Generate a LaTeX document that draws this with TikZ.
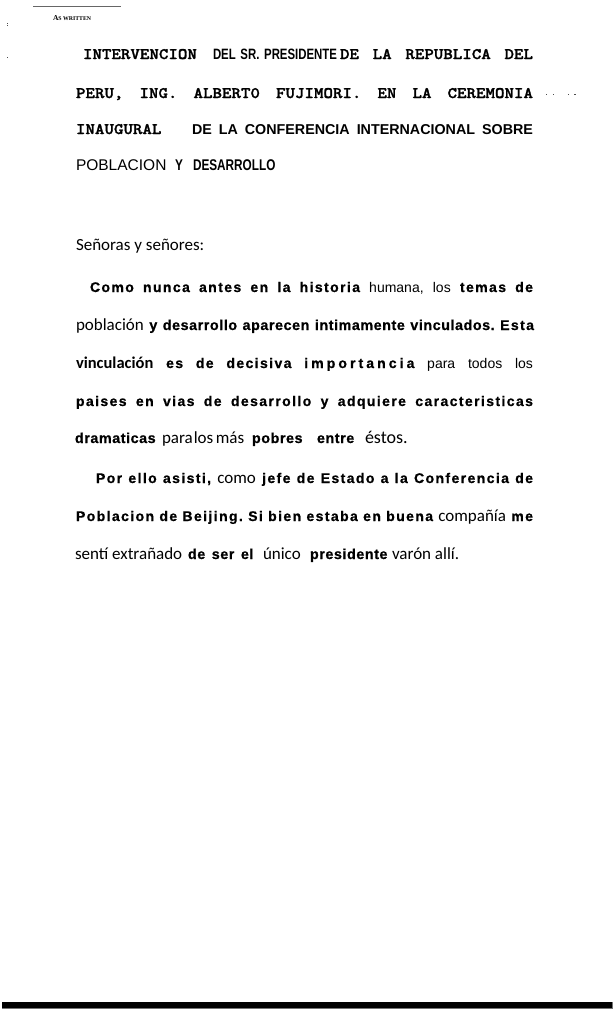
\documentclass[tikz,border=0pt]{standalone}
\usepackage{fontspec}
\setmainfont{Liberation Sans}
\newfontfamily\courf{lmmonolt10-bold}[Extension=.otf, FakeStretch=1.13, FakeBold=1.6]
\newfontfamily\arf{Liberation Sans}
\newfontfamily\arsp{Liberation Sans}[LetterSpace=10, BoldFeatures={FakeBold=0.7}]
\newfontfamily\arpl{Liberation Sans}[LetterSpace=4, BoldFeatures={FakeBold=0.7}]
\newfontfamily\arwd{Liberation Sans}[LetterSpace=22, BoldFeatures={FakeBold=0.7}]
\newfontfamily\narf{Liberation Sans}[FakeStretch=0.76]
\newfontfamily\narb{Liberation Sans}[FakeStretch=0.76]
\newfontfamily\calf{Carlito}
\newfontfamily\serf{Liberation Serif}
\newcommand\BS[1]{{\arsp\bfseries\fontsize{14}{14}\selectfont #1}}
\newcommand\BP[1]{{\arpl\bfseries\fontsize{14.3}{14.3}\selectfont #1}}
\newcommand\BW[1]{{\arwd\bfseries\fontsize{14}{14}\selectfont #1}}
\newcommand\RG[1]{{\arf\fontsize{14}{14}\selectfont #1}}
\newcommand\CL[1]{{\calf\fontsize{17}{17}\selectfont #1}}
\newcommand\CB[1]{{\calf\bfseries\fontsize{16.5}{16.5}\selectfont #1}}
\newcommand\MB[1]{{\courf\fontsize{16}{16}\selectfont #1}}
\tikzset{
  txt/.style={anchor=base west, inner sep=0pt, outer sep=0pt, font=\fontsize{14}{14}\selectfont},
  speck/.style={fill=black!70, draw=none},
}
\begin{document}
\begin{tikzpicture}[x=1pt, y=-1pt]
\useasboundingbox (0,0) rectangle (614,1009);
\fill[white] (0,0) rectangle (614,1009);

% header
\draw[black!60, line width=0.8pt] (33,6) -- (121,6);
\node[txt] (aswritten) at (53,20.5) {\serf\bfseries\fontsize{7.5}{7.5}\selectfont A\fontsize{5.8}{5.8}\selectfont S WRITTEN};
\fill[speck] (6.5,22.5) rectangle (7.7,23.5);
\fill[speck] (6.5,24.5) rectangle (7.7,25.5);
\fill[speck] (6.8,56.5) rectangle (7.8,57.5);

% title
\node[txt] (t1a) at (83,59) {\MB{INTERVENCION}};
\node[txt] (t1b) at (213,59) {\narf\bfseries\fontsize{15}{15}\selectfont\makebox[124pt][s]{DEL SR. PRESIDENTE}};
\node[txt] (t1c) at (340,59) {\MB{\makebox[193pt][l]{DE\hfill LA\hfill REPUBLICA\hfill DEL}}};

\node[txt] (t2) at (76,98) {\MB{\makebox[457pt][l]{PERU,\hfill ING.\hfill ALBERT0\hfill FUJIMORI.\hfill EN\hfill LA\hfill CEREMONIA}}};
\fill[speck] (546.2,93.8) rectangle (547.4,95);
\fill[speck] (552.8,93.8) rectangle (554,95);
\fill[speck] (567.8,93.8) rectangle (569,95);
\fill[speck] (574.4,93.8) rectangle (575.6,95);

\node[txt] (t3a) at (76,134) {\MB{INAUGURAL}};
\node[txt] (t3b) at (192,134) {\arf\bfseries\fontsize{14.3}{14.3}\selectfont\makebox[341pt][s]{DE LA CONFERENCIA INTERNACIONAL SOBRE}};

\node[txt] (t4a) at (76,170) {\arf\fontsize{15.5}{15.5}\selectfont POBLACION};
\node[txt] (t4b) at (175,170) {\narb\bfseries\fontsize{15.5}{15.5}\selectfont Y};
\node[txt] (t4c) at (193,170) {\narb\bfseries\fontsize{15.5}{15.5}\selectfont DESARROLLO};

% body
\node[txt] (b0) at (76,250) {\CL{Señoras y señores:}};

\node[txt] (b1) at (90,292) {\makebox[443pt][l]{\BS{Como}\hfill\BS{nunca}\hfill\BS{antes}\hfill\BS{en}\hfill\BS{la}\hfill\BS{historia}\hfill\RG{humana,}\hfill\RG{los}\hfill\BS{temas}\hfill\BS{de}}};

\node[txt] (b2) at (76,330) {\makebox[458pt][l]{\CL{población}\hfill\BP{y}\hfill\BP{desarrollo}\hfill\BP{aparecen}\hfill\BP{intimamente}\hfill\BP{vinculados.}\hfill\BS{Esta}}};

\node[txt] (b3) at (76,368) {\makebox[457pt][l]{\CB{vinculación}\hfill\BS{es}\hfill\BS{de}\hfill\BS{decisiva}\hfill\BW{importancia}\hfill\RG{para}\hfill\RG{todos}\hfill\RG{los}}};

\node[txt] (b4) at (76,406) {\makebox[457pt][l]{\BS{paises}\hfill\BS{en}\hfill\BS{vias}\hfill\BS{de}\hfill\BS{desarrollo}\hfill\BS{y}\hfill\BS{adquiere}\hfill\BS{caracteristicas}}};

\node[txt] (b5a) at (75,443) {\BP{dramaticas}};
\node[txt] (b5b) at (162,443) {\CL{para\hspace{1pt}los\hspace{2.5pt}más}};
\node[txt] (b5c) at (252,443) {\BP{pobres}};
\node[txt] (b5d) at (317,443) {\BP{entre}};
\node[txt] (b5e) at (365,443) {{\calf\fontsize{18}{18}\selectfont éstos.}};

\node[txt] (b6) at (96,483) {\makebox[437pt][l]{\BS{Por}\hfill\BS{ello}\hfill\BS{asisti,}\hfill\CL{como}\hfill\BS{jefe}\hfill\BS{de}\hfill\BS{Estado}\hfill\BS{a}\hfill\BS{la}\hfill\BS{Conferencia}\hfill\BS{de}}};

\node[txt] (b7) at (76,521) {\makebox[457pt][l]{\BS{Poblacion}\hfill\BS{de}\hfill\BS{Beijing.}\hfill\BS{Si}\hfill\BS{bien}\hfill\BS{estaba}\hfill\BS{en}\hfill\BS{buena}\hfill\CL{compañía}\hfill\BS{me}}};

\node[txt] (b8a) at (75,559) {\CL{sentí extrañado}};
\node[txt] (b8b) at (188,559) {\BP{de\hspace{2pt} ser\hspace{2pt} el}};
\node[txt] (b8c) at (263,559) {\CL{único}};
\node[txt] (b8d) at (310,559) {\BP{presidente}};
\node[txt] (b8e) at (392,559) {\CL{varón allí.}};

% bottom bar
\fill[black] (2,1002) rectangle (612,1008);
\draw[black!55, line width=0.8pt] (2,1008.2) -- (612.3,1008.2) -- (612.3,1002);
\end{tikzpicture}
\end{document}
